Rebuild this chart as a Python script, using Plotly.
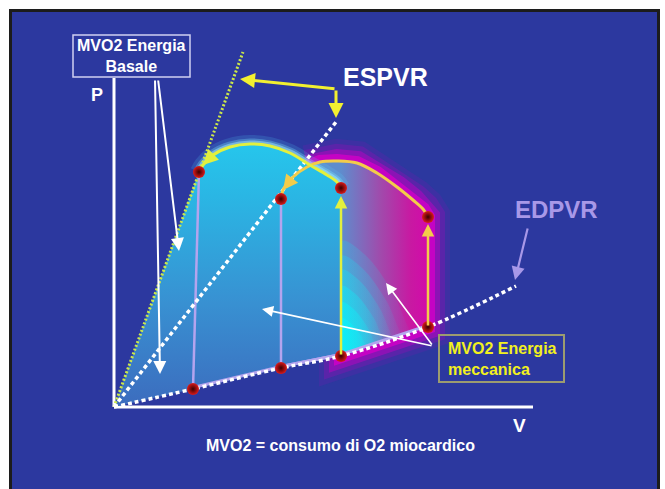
import plotly.graph_objects as go

# ---------------- data (V = volume units, P = pressure units, origin at axis corner) ----------------
edpvr_v = [0, 79, 167, 227, 314, 402]
edpvr_p = [0, 18, 39, 51, 80, 121]

espvr_basal_v = [0, 129]
espvr_basal_p = [0, 355]

espvr_v = [0, 222]
espvr_p = [0, 285]

# loop corners: [filling start, end-systole, ejection start, end-diastole]
loop1_v = [79, 85, 227, 227]
loop1_p = [18, 235, 219, 51]
loop1_top_v = [227, 223, 213, 196, 176, 156, 136, 116, 99, 89, 85]
loop1_top_p = [219, 225, 232, 242, 254, 261, 263, 260, 252, 242, 235]

loop2_v = [167, 167, 314, 314]
loop2_p = [39, 208, 190, 80]
loop2_top_v = [314, 309, 299, 283, 263, 243, 223, 206, 193, 179, 169, 167]
loop2_top_p = [190, 198, 207, 220, 234, 244, 246, 245, 240, 230, 217, 208]

axis_v_max = 419
axis_p_max = 329

title_espvr = "ESPVR"
title_edpvr = "EDPVR"
label_p = "P"
label_v = "V"
caption = "MVO2 = consumo di O2 miocardico"
box_basale = "MVO2 Energia<br>Basale"
box_meccanica = "MVO2 Energia<br>meccanica"

# ---------------- colours ----------------
BG = "#2c389f"
WHITE = "#ffffff"
LAV = "#b4a4ee"
LAV_TXT = "#a898e8"
YEL1 = "#e2f03e"
YEL2 = "#f3cc4a"
GREEN = "#cce84a"
FONT = "Arial, Liberation Sans, sans-serif"

fig = go.Figure()


def edpvr_between(lo, hi):
    return [(v, p) for v, p in zip(edpvr_v, edpvr_p) if lo <= v <= hi]


# ---- magenta glow around loop 2 ----
g_top = [(v, p) for v, p in zip(loop2_top_v, loop2_top_p) if v >= 193][::-1]
g_bot = edpvr_between(loop1_v[3], loop2_v[3])[::-1]
glow = g_top + g_bot + [(loop1_v[2], loop1_p[2])] + [g_top[0]]
gv = [a for a, b in glow]
gp = [b for a, b in glow]
for w, c in [(44, "rgba(170,0,190,0.14)"), (34, "rgba(185,0,190,0.24)"),
             (24, "rgba(200,0,195,0.45)"), (14, "rgba(210,0,200,0.8)")]:
    fig.add_trace(go.Scatter(x=gv, y=gp, mode="lines", line=dict(color=c, width=w),
                             fill="toself", fillcolor="rgba(200,0,195,0.0)", hoverinfo="skip"))

# ---- loop 2 interior (gradient) ----
l2_top = list(zip(loop2_top_v, loop2_top_p))[::-1]
l2_bot = edpvr_between(loop2_v[0], loop2_v[3])[::-1]
l2 = l2_top + [(loop2_v[3], loop2_p[3])] + l2_bot
fig.add_trace(go.Scatter(
    x=[a for a, b in l2], y=[b for a, b in l2], mode="lines", line=dict(width=0),
    fill="toself",
    fillgradient=dict(type="horizontal", start=loop1_v[3], stop=loop2_v[3],
                      colorscale=[[0, "rgb(95,140,205)"], [0.45, "rgb(160,75,172)"],
                                  [0.8, "rgb(200,25,162)"], [1, "rgb(210,10,170)"]]),
    hoverinfo="skip"))

# ---- bright cyan patch at bottom of loop 2 (soft, stacked layers) ----
v0, p0 = loop1_v[3], loop1_p[3]
slope = (loop2_p[3] - loop1_p[3]) / (loop2_v[3] - loop1_v[3])
for H, W, a in [(115, 80, 0.16), (100, 70, 0.2), (86, 60, 0.24), (70, 50, 0.3),
                (54, 40, 0.36), (38, 30, 0.4)]:
    pv = [v0, v0, v0 + W * 0.3, v0 + W * 0.65, v0 + W * 0.9, v0 + W]
    pp = [p0, p0 + H, p0 + H * 0.88, p0 + H * 0.55, p0 + H * 0.2, p0 + W * slope]
    fig.add_trace(go.Scatter(
        x=pv, y=pp, mode="lines", line=dict(width=0, shape="spline"), fill="toself",
        fillgradient=dict(type="horizontal", start=v0, stop=v0 + W,
                          colorscale=[[0, f"rgba(0,255,255,{a})"], [0.5, f"rgba(0,255,255,{a*0.7:.3f})"],
                                      [1, "rgba(0,255,255,0)"]]),
        hoverinfo="skip"))

# ---- cyan halo above loop 1 ----
for w, c in [(18, "rgba(90,215,255,0.16)"), (11, "rgba(130,235,255,0.3)"), (7, "rgba(170,245,255,0.45)")]:
    fig.add_trace(go.Scatter(x=loop1_top_v, y=loop1_top_p, mode="lines",
                             line=dict(color=c, width=w, shape="spline"), hoverinfo="skip"))

# ---- loop 1 interior (gradient) ----
l1 = [(0, 0)] + list(zip(loop1_top_v, loop1_top_p))[::-1] + [(loop1_v[3], loop1_p[3])] + \
     edpvr_between(0, loop1_v[3] - 1)[::-1]
fig.add_trace(go.Scatter(
    x=[a for a, b in l1], y=[b for a, b in l1], mode="lines", line=dict(width=0),
    fill="toself",
    fillgradient=dict(type="vertical", start=0, stop=max(loop1_top_p),
                      colorscale=[[0, "rgb(60,108,190)"], [0.4, "rgb(56,145,210)"],
                                  [0.8, "rgb(42,182,228)"], [1, "rgb(38,198,236)"]]),
    hoverinfo="skip"))

# ---- filling phases (lavender along EDPVR) and isovolumic relaxation ----
for lv, lp in [(loop1_v, loop1_p), (loop2_v, loop2_p)]:
    seg = edpvr_between(lv[0], lv[3])
    fig.add_trace(go.Scatter(x=[a for a, b in seg], y=[b + 1.5 for a, b in seg], mode="lines",
                             line=dict(color=LAV, width=3), hoverinfo="skip"))
    fig.add_trace(go.Scatter(x=[lv[0], lv[1]], y=[lp[0], lp[1]], mode="lines",
                             line=dict(color=LAV, width=2.5), hoverinfo="skip"))

# ---- dotted relations ----
fig.add_trace(go.Scatter(x=espvr_basal_v, y=espvr_basal_p, mode="lines",
                         line=dict(color=GREEN, width=3, dash="2px,2px"), hoverinfo="skip"))
fig.add_trace(go.Scatter(x=espvr_v, y=espvr_p, mode="lines",
                         line=dict(color=WHITE, width=3.5, dash="4px,3px"), hoverinfo="skip"))
fig.add_trace(go.Scatter(x=edpvr_v, y=edpvr_p, mode="lines",
                         line=dict(color=WHITE, width=3.5, dash="4px,3px", shape="spline"),
                         hoverinfo="skip"))

# ---- ejection curves ----
fig.add_trace(go.Scatter(x=loop2_top_v, y=loop2_top_p, mode="lines",
                         line=dict(color=YEL2, width=3, shape="spline"), hoverinfo="skip"))
fig.add_trace(go.Scatter(x=loop1_top_v, y=loop1_top_p, mode="lines",
                         line=dict(color=YEL1, width=3, shape="spline"), hoverinfo="skip"))

# ---- loop corner dots ----
fig.add_trace(go.Scatter(
    x=loop1_v + loop2_v, y=loop1_p + loop2_p, mode="markers",
    marker=dict(size=12, color="#dd1a1a", gradient=dict(type="radial", color="#3a0000"),
                line=dict(width=0)),
    hoverinfo="skip"))

# ---------------- annotations ----------------
ann = []


def arrow(x, y, ax, ay, color, width=2, size=1.3):
    ann.append(dict(x=x, y=y, ax=ax, ay=ay, xref="x", yref="y", axref="x", ayref="y",
                    text="", showarrow=True, arrowhead=2, arrowsize=size, arrowwidth=width,
                    arrowcolor=color, standoff=0, startstandoff=0))


# isovolumic contraction (arrows up)
arrow(loop1_v[3], loop1_p[2] - 8, loop1_v[3], loop1_p[3], YEL1, 2.5, 1.0)
arrow(loop2_v[3], loop2_p[2] - 7, loop2_v[3], loop2_p[3], YEL2, 2.5, 1.0)
# ejection arrow heads
arrow(loop1_top_v[-2], loop1_top_p[-2], loop1_top_v[-3], loop1_top_p[-3], YEL1, 3, 1.0)
arrow(loop2_top_v[-2], loop2_top_p[-2], loop2_top_v[-3], loop2_top_p[-3], YEL2, 3, 1.0)

# ESPVR bracket arrows (yellow)
arrow(126, 328, 222, 318, "#f2f030", 3, 1.0)
arrow(222, 289, 222, 318, "#f2f030", 3, 1.0)
# Basale arrows (white)
arrow(46, 33, 41, 328, WHITE, 2, 1.3)
arrow(65, 156, 44, 328, WHITE, 2, 1.3)
# meccanica arrows (white)
arrow(148, 98, 319, 61, WHITE, 1.6, 1.4)
arrow(272, 124, 319, 61, WHITE, 1.6, 1.4)
# EDPVR arrow (lavender)
arrow(401, 127, 414, 180, LAV_TXT, 2.2, 1.2)


def label(x, y, text, size, color=WHITE, xanchor="center", align="center"):
    ann.append(dict(x=x, y=y, xref="x", yref="y", text=text, showarrow=False,
                    xanchor=xanchor, yanchor="middle", align=align,
                    font=dict(family=FONT, size=size, color=color)))


label(271, 330, f"<b>{title_espvr}</b>", 25)
label(442, 198, f"<b>{title_edpvr}</b>", 24, LAV_TXT)
label(-17, 312, f"<b>{label_p}</b>", 18)
label(405, -18, f"<b>{label_v}</b>", 19)
label(226, -38, f"<b>{caption}</b>", 16)
label(17, 351, f"<b>{box_basale}</b>", 16)
label(332, 48, f"<b>{box_meccanica}</b>", 16, "#f2f01e", xanchor="left", align="left")

shapes = [
    dict(type="rect", xref="paper", yref="paper", x0=10.5 / 665, x1=658.5 / 665,
         y0=-0.02, y1=1 - 10.5 / 489, fillcolor=BG, line=dict(color="#1c1c1c", width=3),
         layer="below"),
    dict(type="line", xref="x", yref="y", x0=0, y0=0, x1=0, y1=axis_p_max,
         line=dict(color=WHITE, width=3), layer="below"),
    dict(type="line", xref="x", yref="y", x0=0, y0=0, x1=axis_v_max, y1=0,
         line=dict(color=WHITE, width=3), layer="below"),
    dict(type="rect", xref="x", yref="y", x0=-41, x1=76, y0=330, y1=372,
         line=dict(color="#cfd0f2", width=1.5)),
    dict(type="rect", xref="x", yref="y", x0=325, x1=450, y0=25, y1=72,
         line=dict(color="#9c9c70", width=2)),
]

fig.update_layout(
    width=665, height=489, margin=dict(l=0, r=0, t=0, b=0),
    paper_bgcolor="white", plot_bgcolor="white", showlegend=False,
    xaxis=dict(range=[-114, 551], visible=False, fixedrange=True),
    yaxis=dict(range=[-82, 407], visible=False, fixedrange=True),
    annotations=ann, shapes=shapes,
)

fig.write_html("out.html", config=dict(displayModeBar=False),
               post_script="document.body.style.margin='0px';document.body.style.overflow='hidden';")
